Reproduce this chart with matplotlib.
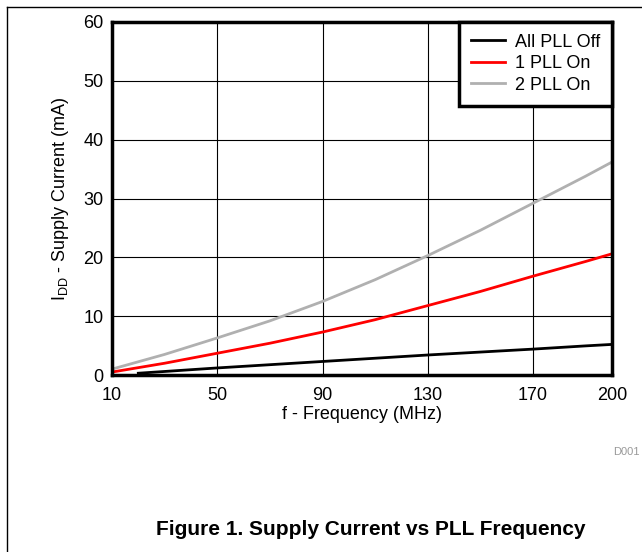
import matplotlib
matplotlib.use("Agg")
import matplotlib.pyplot as plt
from matplotlib.lines import Line2D

plt.rcParams["font.family"] = ["Liberation Sans", "DejaVu Sans"]
plt.rcParams["mathtext.fontset"] = "custom"
plt.rcParams["mathtext.rm"] = "Liberation Sans"

# Datos
freq = [10, 30, 50, 70, 90, 110, 130, 150, 170, 190, 200]
freq_off = [20, 30, 50, 70, 90, 110, 130, 150, 170, 190, 200]
all_pll_off = [0.3, 0.6, 1.2, 1.75, 2.3, 2.85, 3.4, 3.9, 4.4, 4.95, 5.2]
one_pll_on = [0.5, 2.0, 3.7, 5.4, 7.3, 9.4, 11.8, 14.2, 16.8, 19.3, 20.6]
two_pll_on = [1.0, 3.5, 6.3, 9.2, 12.5, 16.2, 20.3, 24.6, 29.2, 33.8, 36.2]

x_ticks = [10, 50, 90, 130, 170, 200]
y_ticks = [0, 10, 20, 30, 40, 50, 60]

fig = plt.figure(figsize=(6.42, 5.52), dpi=100)
ax = fig.add_axes([112 / 642, 1 - 375 / 552, 500 / 642, 353 / 552])

ax.plot(freq_off, all_pll_off, color="black", linewidth=2, label="All PLL Off")
ax.plot(freq, one_pll_on, color="#ff0000", linewidth=2, label="1 PLL On")
ax.plot(freq, two_pll_on, color="#b0b0b0", linewidth=2, label="2 PLL On")

ax.set_xlim(10, 200)
ax.set_ylim(0, 60)
ax.set_xticks(x_ticks)
ax.set_yticks(y_ticks)
ax.tick_params(length=0, labelsize=13)
ax.tick_params(axis="x", pad=9)
ax.tick_params(axis="y", pad=6)
ax.grid(True, color="black", linewidth=0.8)
ax.set_axisbelow(True)
for s in ax.spines.values():
    s.set_linewidth(2.5)

ax.set_xlabel("f - Frequency (MHz)", fontsize=13, labelpad=1)
ax.set_ylabel(r"I$_{\mathregular{DD}}$ - Supply Current (mA)", fontsize=13, labelpad=9)

leg = ax.legend(
    loc="upper right",
    fontsize=13,
    frameon=True,
    fancybox=False,
    borderaxespad=0,
    handlelength=1.9,
    handletextpad=0.55,
    labelspacing=0.25,
    borderpad=0.65,
)
leg.get_frame().set_edgecolor("black")
leg.get_frame().set_linewidth(2.5)
leg.get_frame().set_alpha(1)

fig.text(640 / 642, 1 - 452 / 552, "D001", ha="right", va="center",
         fontsize=8, color="#999999")
fig.text(371 / 642, 1 - 535 / 552, "Figure 1. Supply Current vs PLL Frequency",
         ha="center", va="baseline", fontsize=15, fontweight="bold")

# Marco de la figura (izquierda y arriba)
fig.add_artist(Line2D([7 / 642, 7 / 642], [0, 1 - 7 / 552], color="black",
                      linewidth=1, transform=fig.transFigure))
fig.add_artist(Line2D([7 / 642, 1], [1 - 7 / 552, 1 - 7 / 552], color="black",
                      linewidth=1, transform=fig.transFigure))

fig.savefig("out.png", dpi=100)
plt.close(fig)
